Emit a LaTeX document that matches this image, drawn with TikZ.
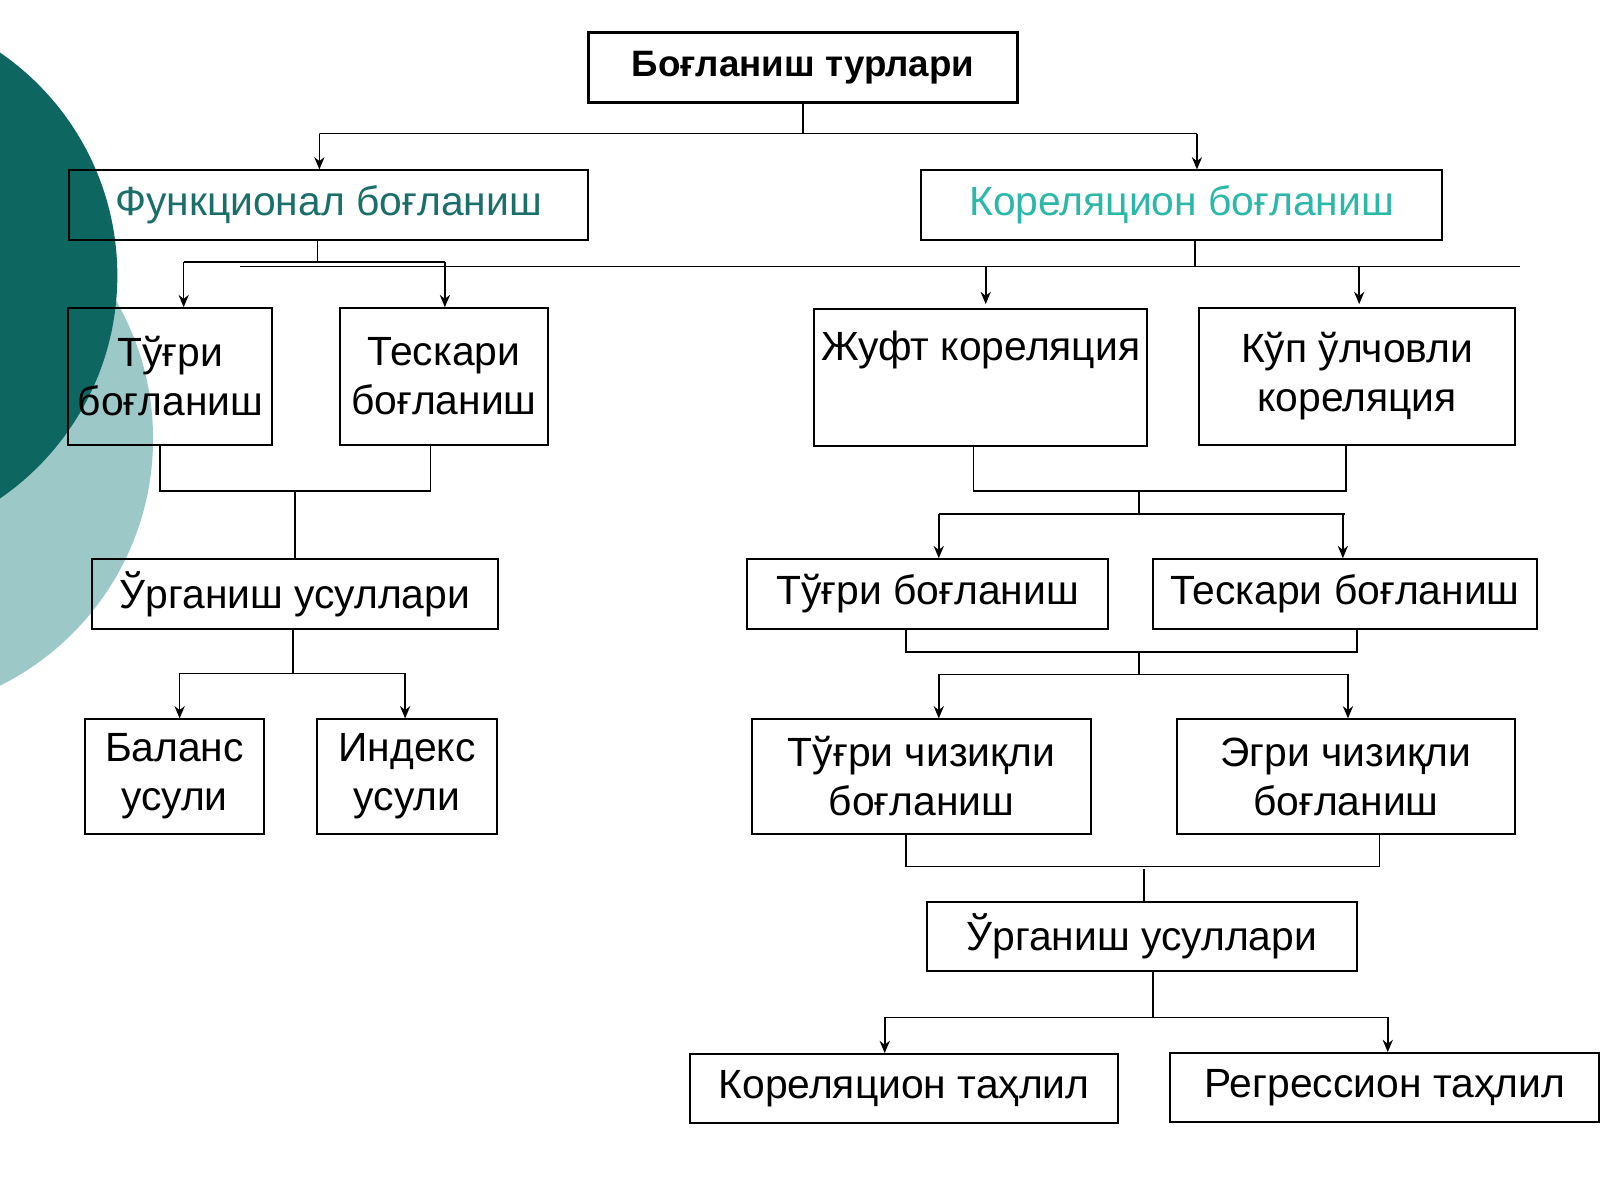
\documentclass[tikz,border=0pt]{standalone}
\usepackage{fontspec}
\setmainfont{Liberation Sans}
\usetikzlibrary{arrows.meta}
\definecolor{tealdark}{HTML}{0E6660}
\definecolor{teallight}{HTML}{9CC8C8}
\definecolor{textdark}{HTML}{1B6F6A}
\definecolor{textlight}{HTML}{2BB8A8}

\begin{document}
\begin{tikzpicture}[x=0.5pt,y=-0.5pt,
  box/.style={draw,line width=1pt,inner sep=0pt,align=center,font=\fontsize{20}{24}\selectfont},
  conn/.style={line width=0.8pt},
  arr/.style={conn,-{Stealth[length=6pt,width=5pt]}}]
\useasboundingbox (0,0) rectangle (1568,1176);
% background circles
\begin{scope}
\clip (0,0) rectangle (1568,1176);
\fill[teallight] (-120,430) circle[radius=270];
\fill[tealdark] (-150,270) circle[radius=265];
\end{scope}
% boxes
\node[box,line width=1.5pt,minimum width=210pt,minimum height=34pt,font=\bfseries\fontsize{18}{22}\selectfont] (top) at (787,66) {Боғланиш турлари};
\node[box,minimum width=254pt,minimum height=34pt,text=textdark] (func) at (322,201) {Функционал боғланиш};
\node[box,minimum width=255pt,minimum height=34pt,text=textlight] (korr) at (1158,201) {Кореляцион боғланиш};
\node[box,minimum width=100pt,minimum height=67pt] (tugri) at (167,369) {Тўғри\\боғланиш};
\node[box,minimum width=102pt,minimum height=67pt] (teskari) at (435,369) {Тескари\\боғланиш};
\node[box,minimum width=163pt,minimum height=67pt] (juft) at (961,370) {Жуфт кореляция\\\strut};
\node[box,minimum width=155pt,minimum height=67pt] (kup) at (1330,369) {Кўп ўлчовли\\кореляция};
\node[box,minimum width=199pt,minimum height=34pt] (urgA) at (289,582) {Ўрганиш усуллари};
\node[box,minimum width=177pt,minimum height=34pt] (tugriB) at (909,582) {Тўғри боғланиш};
\node[box,minimum width=188pt,minimum height=34pt] (teskariB) at (1318,582) {Тескари боғланиш};
\node[box,minimum width=88pt,minimum height=56pt] (balans) at (171,761) {Баланс\\усули};
\node[box,minimum width=88pt,minimum height=56pt] (indeks) at (399,761) {Индекс\\усули};
\node[box,minimum width=166pt,minimum height=56pt] (tchiz) at (903,761) {Тўғри чизиқли\\боғланиш};
\node[box,minimum width=166pt,minimum height=56pt] (echiz) at (1319,761) {Эгри чизиқли\\боғланиш};
\node[box,minimum width=211pt,minimum height=34pt] (urgB) at (1119,918) {Ўрганиш усуллари};
\node[box,minimum width=210pt,minimum height=34pt] (ktahlil) at (886,1067) {Кореляцион таҳлил};
\node[box,minimum width=210pt,minimum height=34pt] (rtahlil) at (1357,1066) {Регрессион таҳлил};
% connectors
\draw[conn] (top.south) |- (313,131) -- (1173,131);
\draw[arr] (313,131) -- (func.north -| 313,0);
\draw[arr] (1173,131) -- (korr.north -| 1173,0);
\draw[conn] (func.south -| 311,0) -- (311,257);
\draw[conn] (180,257) -- (436,257);
\draw[arr] (180,257) -- (tugri.north -| 180,0);
\draw[arr] (436,257) -- (teskari.north -| 436,0);
\draw[conn] (235,261) -- (1490,261);
\draw[conn] (korr.south -| 1171,0) -- (1171,261);
\draw[arr] (966,261) -- (966,298);
\draw[arr] (1332,261) -- (1332,298);
\draw[conn] (tugri.south -| 157,0) |- (422,481) -- (teskari.south -| 422,0);
\draw[conn] (289,481) -- (urgA.north);
\draw[conn] (urgA.south -| 287,0) -- (287,660);
\draw[conn] (176,660) -- (397,660);
\draw[arr] (176,660) -- (balans.north -| 176,0);
\draw[arr] (397,660) -- (indeks.north -| 397,0);
\draw[conn] (juft.south -| 954,0) |- (1319,481) -- (kup.south -| 1319,0);
\draw[conn] (1116,481) -- (1116,504);
\draw[conn] (920,504) -- (1318,504);
\draw[arr] (920,504) -- (tugriB.north -| 920,0);
\draw[arr] (1316,504) -- (teskariB.north -| 1316,0);
\draw[conn] (tugriB.south -| 888,0) |- (1330,639) -- (teskariB.south -| 1330,0);
\draw[conn] (1116,639) -- (1116,661);
\draw[conn] (920,661) -- (1321,661);
\draw[arr] (920,661) -- (tchiz.north -| 920,0);
\draw[arr] (1321,661) -- (echiz.north -| 1321,0);
\draw[conn] (tchiz.south -| 888,0) |- (1352,849) -- (echiz.south -| 1352,0);
\draw[conn] (1121,852) -- (urgB.north -| 1121,0);
\draw[conn] (urgB.south -| 1130,0) -- (1130,997);
\draw[conn] (867,997) -- (1360,997);
\draw[arr] (867,997) -- (ktahlil.north -| 867,0);
\draw[arr] (1360,997) -- (rtahlil.north -| 1360,0);
\end{tikzpicture}
\end{document}
